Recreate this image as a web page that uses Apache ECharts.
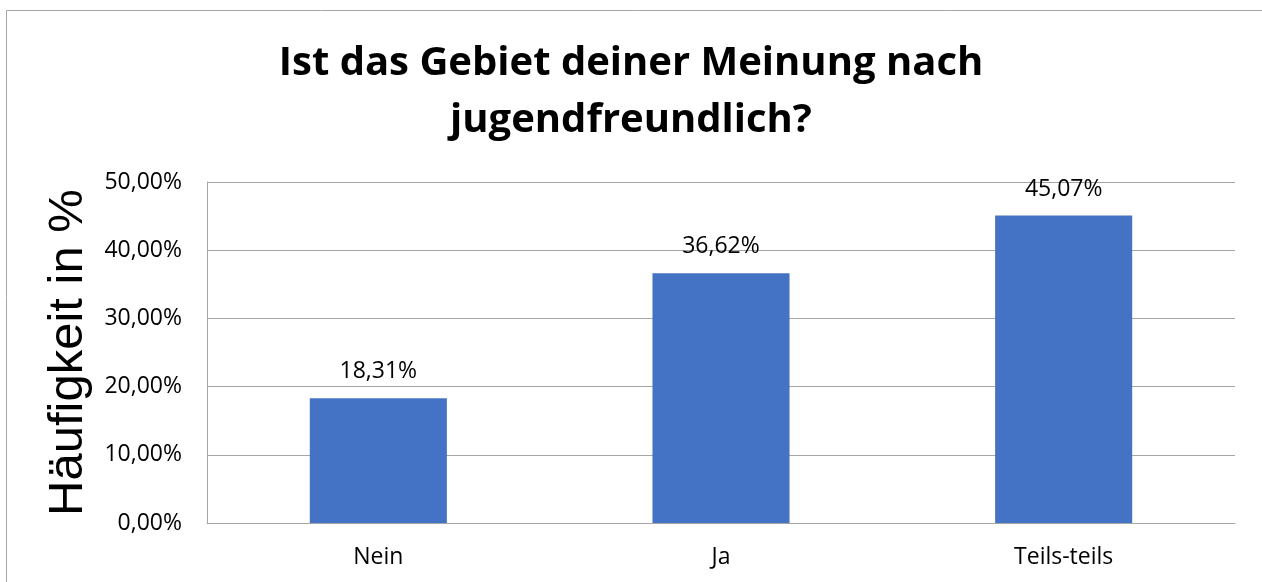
<!DOCTYPE html>
<html lang="de">
<head>
  <meta charset="UTF-8" />
  <title>Jugendfreundlichkeit</title>
  <script src="https://cdn.jsdelivr.net/npm/echarts@6/dist/echarts.min.js"></script>
  <style>
    html, body { margin: 0; padding: 0; background: #fff; }
    #chart { width: 1262px; height: 582px; }
  </style>
</head>
<body>
  <div id="chart"></div>
  <script>
    // Daten
    const categories = ['Nein', 'Ja', 'Teils-teils'];
    const values = [18.31, 36.62, 45.07];
    const yTicks = { min: 0, max: 50, interval: 10 };

    const fmt = v => v.toFixed(2).replace('.', ',') + '%';

    const chart = echarts.init(document.getElementById('chart'));

    chart.setOption({
      animation: false,
      graphic: [
        {
          type: 'rect',
          shape: { x: 6.5, y: 10.5, width: 1400, height: 800 },
          style: { fill: 'none', stroke: '#a6a6a6', lineWidth: 1 },
          silent: true
        },
        {
          type: 'text',
          left: 'center',
          top: 35,
          style: {
            text: 'Ist das Gebiet deiner Meinung nach\njugendfreundlich?',
            textAlign: 'center',
            font: 'bold 40px "Open Sans"',
            lineHeight: 57,
            fill: '#000'
          }
        }
      ],
      grid: { left: 207, right: 27, top: 182, bottom: 59 },
      xAxis: {
        type: 'category',
        data: categories,
        axisTick: { show: false },
        axisLine: { lineStyle: { color: '#a6a6a6', width: 1 } },
        axisLabel: {
          margin: 23,
          fontFamily: 'Open Sans',
          fontSize: 23,
          color: '#000'
        }
      },
      yAxis: {
        type: 'value',
        min: yTicks.min,
        max: yTicks.max,
        interval: yTicks.interval,
        name: 'Häufigkeit in %',
        nameLocation: 'middle',
        nameRotate: 90,
        nameGap: 114,
        nameTextStyle: {
          fontFamily: 'Liberation Sans',
          fontSize: 49,
          color: '#000'
        },
        axisLine: { show: true, lineStyle: { color: '#a6a6a6', width: 1 } },
        axisTick: { show: false },
        splitLine: { lineStyle: { color: '#a6a6a6', width: 1 } },
        axisLabel: {
          margin: 25,
          fontFamily: 'Open Sans',
          fontSize: 23,
          color: '#000',
          formatter: fmt
        }
      },
      series: [{
        type: 'bar',
        data: values,
        barWidth: '40%',
        itemStyle: { color: '#4472c4' },
        label: {
          show: true,
          position: 'top',
          distance: 15,
          fontFamily: 'Open Sans',
          fontSize: 23,
          color: '#000',
          formatter: p => fmt(p.value)
        }
      }]
    });
  </script>
</body>
</html>
